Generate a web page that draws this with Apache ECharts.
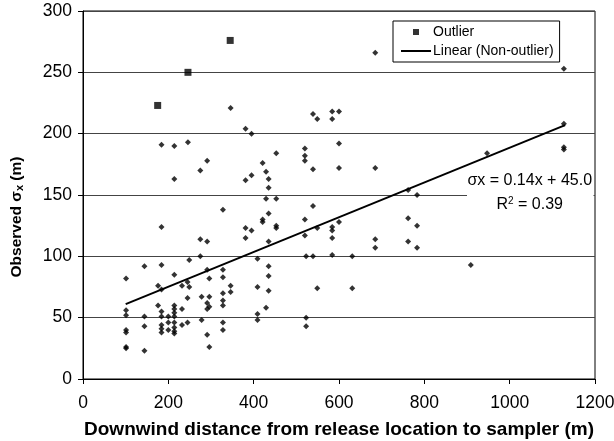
<!DOCTYPE html>
<html>
<head>
<meta charset="utf-8">
<script src="https://cdn.jsdelivr.net/npm/echarts@6/dist/echarts.min.js"></script>
<style>html,body{margin:0;padding:0;background:#fff}#c{width:614px;height:441px}</style>
</head>
<body>
<div id="c"></div>
<script>
// Non-outlier observations: [distance (m), observed sigma x (m)]
const nonOutlier = [
  [214,163],[381,162],[328,138],[184,124],[381,123],[275,114],[395,121],[291,112],[381,115],[275,100],
  [249,97],[101,82],[144,92],[184,93],[214,85],[291,89],[296,82],[328,89],[328,83],[409,98],
  [409,75],[346,76],[346,71],[176,76],[184,73],[232,76],[245,79],[249,75],[245,66],[278,67],
  [296,67],[291,62],[296,59],[291,57],[328,70],[328,64],[328,60],[278,48],[291,36],[296,26],
  [328,46],[328,40],[409,53],[409,48],[101,56],[101,52],[101,40],[101,38],[101,26],[101,25],
  [144,51],[144,43],[144,23],[176,60],[184,55],[184,51],[184,44],[184,41],[184,38],[200,51],
  [200,46],[200,40],[214,60],[214,57],[214,54],[214,51],[214,46],[214,42],[214,39],[214,37],
  [232,57],[232,44],[245,46],
  [381,204],[395,200],[539,216],[549,212],[584,218],[600,218],[584,212],[600,192],[520,188],[520,182],
  [520,178],[539,171],[600,172],[685,172],[453,184],[421,176],[429,169],[435,163],[435,156],[395,166],
  [429,147],[453,147],[539,141],[435,135],[421,130],[421,128],[453,125],[453,123],[549,123],[584,124],
  [584,121],[600,128],[520,130],[520,117],[584,115],[685,114],[685,107],[762,154],[783,150],[762,131],
  [783,125],[762,112],[783,107],[435,112],
  [435,92],[435,84],[435,72],[429,58],[523,100],[539,100],[584,101],[631,100],[549,74],[631,74],
  [523,50],[523,43],
  [184,191],[214,190],[246,193],[291,178],[275,170],[346,221],[685,266],
  [1127,253],[1127,208],[1127,189],[1127,187],[947,184],[909,93]
];
// Outliers
const outliers = [[175,223],[246,250],[345,276]];
// Linear fit of non-outliers (endpoints as drawn)
const trendLine = [[100,61],[1130,207]];
// Axis ticks
const xTicks = [0,200,400,600,800,1000,1200];
const yTicks = [0,50,100,150,200,250,300];
const fitLabel = 'σx = 0.14x + 45.0';
const r2Label = '0.39';

const FONT = 'Arial, "Liberation Sans", sans-serif';
const chart = echarts.init(document.getElementById('c'), null, {renderer: 'canvas'});
const GL = 83, GT = 11, GR = 19, GB = 62;
chart.setOption({
  animation: false,
  backgroundColor: '#fff',
  grid: {left: GL, top: GT, right: GR, bottom: GB, show: true, borderColor: '#000', borderWidth: 1,
    backgroundColor: 'transparent', containLabel: false, outerBoundsMode: 'none'},
  xAxis: {
    type: 'value', min: xTicks[0], max: xTicks[xTicks.length-1], interval: 200,
    name: 'Downwind distance from release location to sampler (m)',
    nameLocation: 'middle', nameGap: 41,
    nameTextStyle: {fontFamily: FONT, fontWeight: 'bold', fontSize: 19, color: '#000'},
    axisLine: {lineStyle: {color: '#000', width: 1}},
    axisTick: {show: true, inside: false, length: 5, lineStyle: {color: '#000'}},
    axisLabel: {fontFamily: FONT, fontSize: 17.5, color: '#000', margin: 15, formatter: v => String(v)},
    splitLine: {show: false}
  },
  yAxis: {
    type: 'value', min: yTicks[0], max: yTicks[yTicks.length-1], interval: 50,
    name: 'Observed σ{sub|x} (m)',
    nameLocation: 'middle', nameGap: 58,
    nameTextStyle: {fontFamily: FONT, fontWeight: 'bold', fontSize: 15.5, color: '#000', padding: [0, 44, 0, 0],
      rich: {sub: {fontFamily: FONT, fontWeight: 'bold', fontSize: 11, color: '#000', padding: [5,0,0,0]}}},
    axisLine: {show: true, lineStyle: {color: '#000', width: 1}},
    axisTick: {show: true, inside: false, length: 5, lineStyle: {color: '#000'}},
    axisLabel: {fontFamily: FONT, fontSize: 17.5, color: '#000', margin: 11, formatter: v => String(v)},
    splitLine: {show: true, lineStyle: {color: '#444', width: 1}}
  },
  legend: {
    orient: 'vertical', left: 393, top: 21, padding: [4, 6, 4, 8],
    itemGap: 5, itemWidth: 30, itemHeight: 6,
    borderColor: '#000', borderWidth: 1, backgroundColor: '#fff',
    textStyle: {fontFamily: FONT, fontSize: 14, color: '#000', padding: [0,0,0,-3]},
    data: [
      {name: 'Outlier', icon: 'path://M0,0H5V5H0Z'},
      {name: 'Linear (Non-outlier)', icon: 'path://M0,0H30V2H0Z'}
    ]
  },
  graphic: [],
  series: [
    {
      name: 'Non-outlier', type: 'scatter', data: nonOutlier, symbol: 'diamond', symbolSize: 6,
      itemStyle: {color: '#000'}, z: 3
    },
    {
      name: 'Outlier', type: 'scatter', data: outliers, symbol: 'rect', symbolSize: 7,
      itemStyle: {color: '#000'}, z: 3
    },
    {
      name: 'Linear (Non-outlier)', type: 'line', data: trendLine, symbol: 'none', showSymbol: false,
      lineStyle: {color: '#000', width: 2}, itemStyle: {color: '#000'}, z: 4
    }
  ]
});
// Equation annotation (white box) positioned from data coordinates
const p = chart.convertToPixel({gridIndex: 0}, [1047, 150]);
const right = chart.convertToPixel({gridIndex: 0}, [1200, 150])[0];
const cx = p[0];
const cy = p[1];
chart.setOption({
  graphic: [
    {type: 'rect', shape: {x: 467, y: cy - 28, width: right - 467 - 1.5, height: 50}, style: {fill: '#fff'}, z: 1, silent: true},
    {type: 'text', x: cx, y: cy - 14, z: 5, style: {text: fitLabel, fontFamily: FONT, fontSize: 16, fill: '#000', align: 'center', verticalAlign: 'middle'}},
    {type: 'text', x: cx, y: cy + 10, z: 5, style: {text: 'R{sup|2} = ' + r2Label, fontFamily: FONT, fontSize: 16, fill: '#000', align: 'center', verticalAlign: 'middle',
      rich: {sup: {fontFamily: FONT, fontSize: 10, fill: '#000', verticalAlign: 'top', padding: [0,0,8,0]}}}}
  ]
});
</script>
</body>
</html>
